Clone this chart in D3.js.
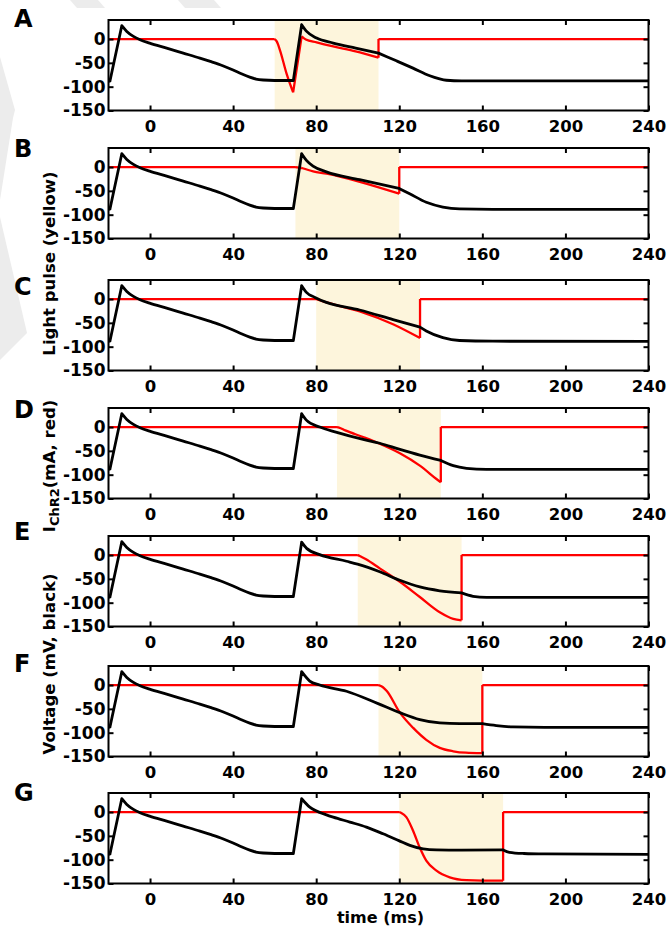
<!DOCTYPE html>
<html><head><meta charset="utf-8">
<script src="https://cdn.jsdelivr.net/npm/d3@7"></script>
<style>
html,body{margin:0;padding:0;background:#fff;}
svg{display:block;}
</style></head><body>
<svg id="chart" width="672" height="929"></svg>
<script>
// ---------------- data ----------------
const panelLabels = ["A","B","C","D","E","F","G"];
const pulseStart = [60, 70, 80, 90, 100, 110, 120];
const pulseEnd   = [110, 120, 130, 140, 150, 160, 170];
const xTickValues = [0, 40, 80, 120, 160, 200, 240];
const yTickValues = [0, -50, -100, -150];
const timeDomain = [-20, 240];
const valueDomain = [-150, 40];

// first action potential (identical in all panels), mV
const firstApTime    = [-20, -19.3, -13.6, -11.2, -8, -4.8, -0.2, 8, 16, 24, 29, 35, 40, 44, 48, 51, 54.5, 60, 69];
const firstApVoltage = [-89, -88, 28, 16, 5.6, -1.4, -8.4, -19, -29.5, -40, -47, -56, -65, -73, -80, -84, -86, -87, -87];
const apCornerTimes = [-19.3, -13.6, 69, 73];

// second action potential, per panel, mV (black)
const secondApTime = [
  [73, 75.4, 80.2, 88.2, 99, 110, 114, 118.6, 126.6, 134.7, 139, 142.7, 150, 240],
  [73, 75.3, 78.5, 84.9, 100.9, 120, 125, 133, 141, 149, 165, 240],
  [73, 75.3, 79.4, 84.9, 100.9, 117, 130, 133, 141, 149, 165, 240],
  [73, 75.4, 81.7, 89.5, 102.6, 110.6, 120.3, 129.9, 140, 146, 152.4, 162, 240],
  [73, 75.4, 81.7, 94.6, 99.9, 110.6, 120.3, 129.9, 139.5, 150, 155.5, 162, 240],
  [73, 76.9, 81.7, 94.6, 109.8, 120.3, 129.9, 139.5, 149.1, 160, 166.7, 174.7, 190, 240],
  [73, 76.9, 80.2, 88.2, 96.2, 104.2, 112.2, 119.8, 125.1, 131.5, 137.9, 150, 170, 173, 180, 190, 240]
];
const secondApVoltage = [
  [30, 16, 2, -8.4, -19, -29.5, -37, -45.7, -61, -77, -83, -86.5, -88, -88],
  [28, 14, 2, -10, -26.5, -45, -56, -74, -84, -88, -89, -89],
  [28, 14, 3.5, -7, -23, -43, -59, -67, -81, -87, -88.5, -89],
  [28, 14, 0, -10.6, -26, -34, -47, -59, -70, -81, -86.6, -89, -89],
  [27, 14, 1, -13, -19, -35, -53, -67, -75, -79.5, -86.6, -89, -89],
  [28, 8.4, 0, -13, -39, -58, -72.5, -79.5, -81, -81, -85, -88, -89, -89],
  [28, 10.5, 2, -10.6, -21, -31.7, -45.7, -60, -70, -77.4, -79.5, -80, -79.5, -84.5, -87, -88, -89]
];

// ChR2 current during the light pulse, per panel, mA (red); zero elsewhere
const chr2Time = [
  [60, 61, 62.5, 65.7, 68.9, 73, 75, 80.2, 88.2, 99, 110],
  [70, 73, 78.5, 85, 101, 120],
  [80, 85, 101, 117, 130],
  [90, 91, 94, 102.6, 110.6, 120.3, 129.9, 137.9, 140],
  [100, 101, 104, 110.6, 120.3, 129.9, 139.5, 146, 150],
  [110, 112, 114, 120.3, 126.7, 133, 139.5, 146, 152, 160],
  [120, 121, 123.4, 126.6, 129.8, 133, 137.9, 144.3, 152.3, 160, 170]
];
const chr2Current = [
  [0, -5, -22.5, -72, -112, 5.6, -1, -7, -15.5, -26, -39],
  [0, -2, -9, -14, -31, -56],
  [0, -7, -26, -53, -82],
  [0, -1, -7, -21, -35, -55, -81, -109, -116],
  [0, -2, -9, -28, -56, -88, -120, -134, -137],
  [0, -4, -12.7, -58, -90, -115, -132, -139, -142, -143],
  [0, -2, -10.6, -38.7, -74, -102, -123, -137, -143, -144, -144]
];
const chr2CornerTimes = [[68.9, 73], [73], [], [], [], [], []];

// ---------------- layout ----------------
const svg = d3.select("#chart");
const FONT = "'DejaVu Sans', sans-serif";
const plotLeft = 108.5, plotRight = 648.5, plotH = 90.5;
const panelTops = [20, 148, 280, 408, 536, 666, 793];
const letterBaselines = [27, 157, 295, 418, 540, 672, 801];

// faint watermark remnants in the margins
const wm = svg.append("g").attr("fill", "#ececec");
wm.append("polygon").attr("points", "70,0 98,0 105,8 77,8");
wm.append("polygon").attr("points", "178,0 214,0 221,8 185,8");
wm.append("polygon").attr("points", "0,57 15,110 13,118 0,200");
wm.append("polygon").attr("points", "0,217 27,333 0,360");

const x = d3.scaleLinear().domain(timeDomain).range([plotLeft, plotRight]);

function segmentedPath(pts, cornerIdx, sx, sy) {
  const line = d3.line().x(d => sx(d[0])).y(d => sy(d[1])).curve(d3.curveMonotoneX);
  const ks = [...new Set(cornerIdx)].filter(k => k > 0 && k < pts.length - 1).sort((a, b) => a - b);
  let out = "", start = 0;
  for (const k of ks) { out += line(pts.slice(start, k + 1)); start = k; }
  out += line(pts.slice(start));
  return out;
}

panelLabels.forEach((lab, i) => {
  const top = panelTops[i];
  const bottom = top + plotH;
  const y = d3.scaleLinear().domain(valueDomain).range([bottom, top]);
  const g = svg.append("g");

  const clipId = "clip" + i;
  svg.append("clipPath").attr("id", clipId).append("rect")
    .attr("x", plotLeft).attr("y", top).attr("width", plotRight - plotLeft).attr("height", plotH);
  const inner = g.append("g").attr("clip-path", `url(#${clipId})`);

  // light pulse shading
  inner.append("rect")
    .attr("x", x(pulseStart[i])).attr("width", x(pulseEnd[i]) - x(pulseStart[i]))
    .attr("y", top).attr("height", plotH).attr("fill", "#fdf5dc");

  // red ChR2 current
  const pulsePts = chr2Time[i].map((t, k) => [t, chr2Current[i][k]]);
  const redPts = [[timeDomain[0], 0], ...pulsePts, [pulseEnd[i], 0], [timeDomain[1], 0]];
  const n = pulsePts.length;
  const redCorners = [1, n, n + 1];
  chr2CornerTimes[i].forEach(ct => {
    const k = redPts.findIndex(p => Math.abs(p[0] - ct) < 1e-6);
    if (k >= 0) redCorners.push(k);
  });
  inner.append("path")
    .attr("d", segmentedPath(redPts, redCorners, x, y))
    .attr("fill", "none").attr("stroke", "#ff0000").attr("stroke-width", 2.3)
    .attr("stroke-linejoin", "round");

  // black voltage
  const blackPts = [
    ...firstApTime.map((t, k) => [t, firstApVoltage[k]]),
    ...secondApTime[i].map((t, k) => [t, secondApVoltage[i][k]])
  ];
  const corners = [...apCornerTimes, pulseEnd[i]];
  const blackCorners = [];
  blackPts.forEach((p, k) => { if (corners.some(c => Math.abs(c - p[0]) < 1e-6)) blackCorners.push(k); });
  inner.append("path")
    .attr("d", segmentedPath(blackPts, blackCorners, x, y))
    .attr("fill", "none").attr("stroke", "#000").attr("stroke-width", 2.8)
    .attr("stroke-linejoin", "round").attr("stroke-linecap", "round");

  // axes (ticks inward on all four sides)
  const styleAxis = (ax) => {
    ax.attr("font-family", FONT).attr("font-weight", "bold");
    ax.select(".domain").remove();
    ax.selectAll(".tick line").attr("stroke", "#000").attr("stroke-width", 2);
  };
  const gb = g.append("g").attr("transform", `translate(0,${bottom})`)
    .call(d3.axisBottom(x).tickValues(xTickValues).tickSize(-5).tickPadding(10).tickFormat(d3.format("d")));
  styleAxis(gb); gb.attr("font-size", 16.5);
  const gt = g.append("g").attr("transform", `translate(0,${top})`)
    .call(d3.axisTop(x).tickValues(xTickValues).tickSize(-5).tickFormat(""));
  styleAxis(gt);
  const gl = g.append("g").attr("transform", `translate(${plotLeft},0)`)
    .call(d3.axisLeft(y).tickValues(yTickValues).tickSize(-5).tickPadding(3).tickFormat(d3.format("d")));
  styleAxis(gl); gl.attr("font-size", 17);
  gl.selectAll(".tick text").text(d => (d < 0 ? "-" + Math.abs(d) : String(d)));
  const gr = g.append("g").attr("transform", `translate(${plotRight},0)`)
    .call(d3.axisRight(y).tickValues(yTickValues).tickSize(-5).tickFormat(""));
  styleAxis(gr);

  // box
  g.append("rect").attr("x", plotLeft).attr("y", top)
    .attr("width", plotRight - plotLeft).attr("height", plotH)
    .attr("fill", "none").attr("stroke", "#000").attr("stroke-width", 2);

  // panel letter
  svg.append("text").attr("x", 14).attr("y", letterBaselines[i])
    .attr("font-family", FONT).attr("font-weight", "bold").attr("font-size", 24)
    .text(lab);
});

// x-axis label
svg.append("text").attr("x", 380.5).attr("y", 922.5).attr("text-anchor", "middle")
  .attr("font-family", FONT).attr("font-weight", "bold").attr("font-size", 16)
  .text("time (ms)");

// y-axis label pieces (rotated)
const yl = (cy) => svg.append("text")
  .attr("transform", `translate(55,${cy}) rotate(-90)`)
  .attr("text-anchor", "middle")
  .attr("font-family", FONT).attr("font-weight", "bold").attr("font-size", 16.5);
yl(263.5).text("Light pulse (yellow)");
const ich = yl(466);
ich.append("tspan").text("I");
ich.append("tspan").attr("font-size", 13).attr("dy", 4).text("ChR2");
ich.append("tspan").attr("dy", -4).text("(mA, red)");
yl(664).text("Voltage (mV, black)");
</script>
</body></html>
